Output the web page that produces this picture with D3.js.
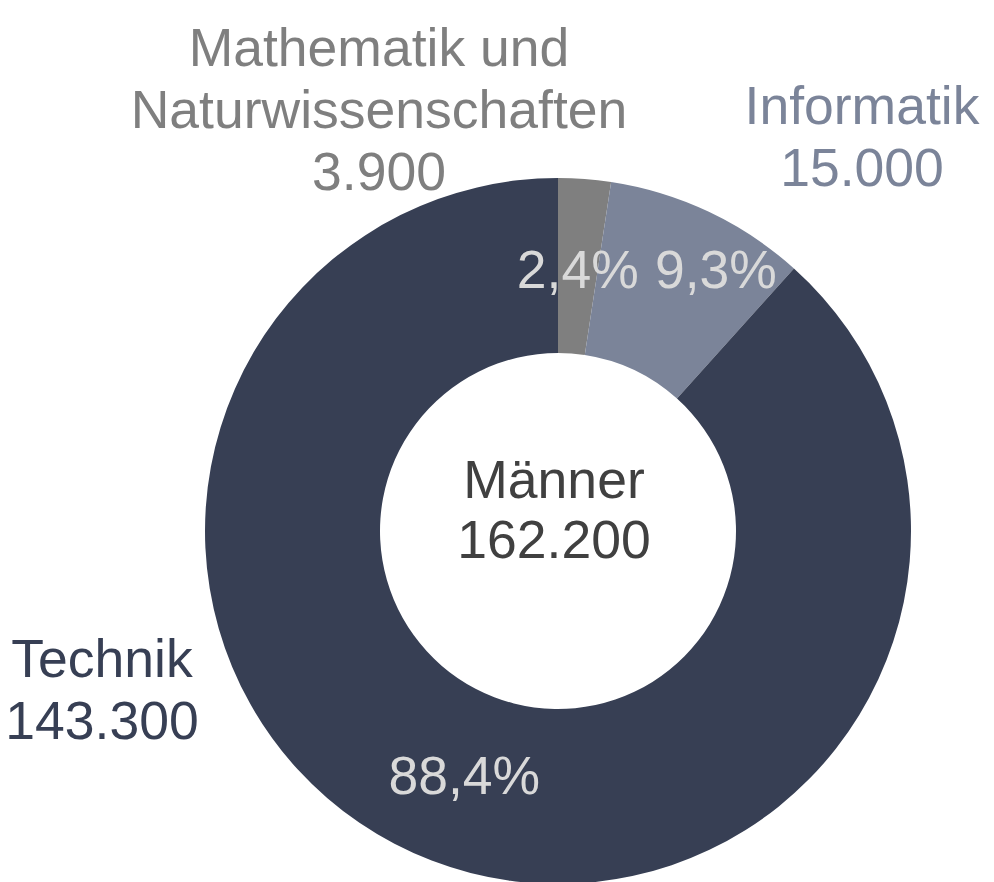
<!DOCTYPE html>
<html>
<head>
<meta charset="utf-8">
<script src="https://cdn.jsdelivr.net/npm/d3@7"></script>
<style>
  body { margin: 0; background: #fff; }
  text { font-family: "Liberation Sans", Arial, sans-serif; }
</style>
</head>
<body>
<script>
const categories = ["Mathematik und Naturwissenschaften", "Informatik", "Technik"];
const values = [3900, 15000, 143300];
const shares = [2.4, 9.3, 88.4];
const centerTitle = "Männer";
const total = 162200;

const colors = ["#7f7f7f", "#7b8499", "#373f54"];
const width = 994, height = 882;
const cx = 558, cy = 531;
const outerR = 353, innerR = 178;
const fontSize = 53.5, lineH = 62;

// hand placed outer labels (as in the original slide)
const labelPos = [
  { x: 379, y: 66, anchor: "middle", lines: ["Mathematik und", "Naturwissenschaften"] },
  { x: 862, y: 124, anchor: "middle", lines: ["Informatik"] },
  { x: 102, y: 677, anchor: "middle", lines: ["Technik"] }
];
const pctNudge = [[0, 0], [46, -25], [0, 0]];

const de = d3.formatLocale({ decimal: ",", thousands: ".", grouping: [3], currency: ["", " €"] });
const fmt = de.format(",");

const svg = d3.select("body").append("svg")
  .attr("width", width)
  .attr("height", height);

const g = svg.append("g").attr("transform", `translate(${cx}, ${cy})`);

const pie = d3.pie().sort(null).value(d => d);
const arcs = pie(values);
const arc = d3.arc().innerRadius(innerR).outerRadius(outerR);
const labelArc = d3.arc().innerRadius(262).outerRadius(262);

g.selectAll("path.slice")
  .data(arcs)
  .enter().append("path")
  .attr("class", "slice")
  .attr("d", arc)
  .attr("fill", (d, i) => colors[i]);

g.selectAll("text.pct")
  .data(arcs)
  .enter().append("text")
  .attr("class", "pct")
  .attr("x", (d, i) => labelArc.centroid(d)[0] + pctNudge[i][0])
  .attr("y", (d, i) => labelArc.centroid(d)[1] + pctNudge[i][1])
  .attr("dy", "0.35em")
  .attr("text-anchor", "middle")
  .style("font-size", fontSize + "px")
  .style("fill", "#d9d9d9")
  .text((d, i) => de.format(".1f")(shares[i]) + "%");

// category labels
categories.forEach((c, i) => {
  const p = labelPos[i];
  const t = svg.append("text")
    .attr("text-anchor", p.anchor)
    .style("font-size", fontSize + "px")
    .style("fill", colors[i]);
  const lines = p.lines.concat([fmt(values[i])]);
  lines.forEach((l, k) => {
    t.append("tspan")
      .attr("x", p.x)
      .attr("y", p.y + k * lineH)
      .text(l);
  });
});

// center
const ct = g.append("text")
  .attr("text-anchor", "middle")
  .style("font-size", fontSize + "px")
  .style("fill", "#404040");
ct.append("tspan").attr("x", -4).attr("y", -33).text(centerTitle);
ct.append("tspan").attr("x", -4).attr("y", 27).text(fmt(total));
</script>
</body>
</html>
